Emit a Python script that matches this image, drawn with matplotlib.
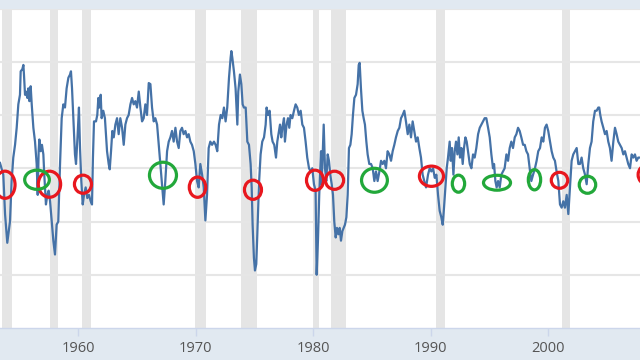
import matplotlib
matplotlib.use("Agg")
import matplotlib.pyplot as plt
from matplotlib.patches import Ellipse

# series (decimal year, value)
years = [
    1953.36, 1953.64, 1953.79, 1953.93, 1953.98, 1954.21, 1954.35, 1954.49, 1954.64, 1954.78,
    1954.92, 1955.06, 1955.12, 1955.26, 1955.35, 1955.40, 1955.49, 1955.57, 1955.69, 1955.77,
    1955.86, 1955.97, 1956.06, 1956.20, 1956.34, 1956.48, 1956.57, 1956.65, 1956.71, 1956.82,
    1956.93, 1957.05, 1957.13, 1957.27, 1957.39, 1957.50, 1957.62, 1957.76, 1957.90, 1958.04,
    1958.18, 1958.32, 1958.47, 1958.61, 1958.75, 1958.89, 1959.03, 1959.18, 1959.32, 1959.40,
    1959.49, 1959.60, 1959.74, 1959.83, 1959.97, 1960.08, 1960.17, 1960.28, 1960.40, 1960.51,
    1960.65, 1960.79, 1960.93, 1961.08, 1961.19, 1961.27, 1961.36, 1961.53, 1961.64, 1961.73,
    1961.81, 1961.93, 1962.01, 1962.15, 1962.29,
    1962.47, 1962.61, 1962.70, 1962.81, 1962.92, 1963.04, 1963.18, 1963.32, 1963.46, 1963.60,
    1963.75, 1963.89, 1964.03, 1964.17, 1964.31, 1964.46, 1964.60, 1964.74, 1964.88, 1965.02,
    1965.17, 1965.31, 1965.45, 1965.59, 1965.73, 1965.87, 1966.02, 1966.16, 1966.30, 1966.44,
    1966.58, 1966.73, 1966.87, 1967.01, 1967.15, 1967.29, 1967.43, 1967.58, 1967.72, 1967.86,
    1968.00, 1968.14, 1968.29, 1968.43, 1968.57, 1968.71, 1968.85, 1968.99, 1969.14, 1969.28,
    1969.42, 1969.56, 1969.70, 1969.85, 1969.99, 1970.13, 1970.27, 1970.41, 1970.56, 1970.70,
    1970.84, 1970.98, 1971.12, 1971.26, 1971.41,
    1971.57, 1971.71, 1971.85, 1972.00, 1972.14, 1972.28, 1972.42, 1972.56, 1972.70, 1972.85,
    1972.99, 1973.05, 1973.13, 1973.27, 1973.41, 1973.56, 1973.64, 1973.78, 1973.90, 1974.01,
    1974.12, 1974.27, 1974.41, 1974.55, 1974.69, 1974.78, 1974.86, 1974.97, 1975.06, 1975.17,
    1975.26, 1975.40, 1975.54, 1975.68, 1975.83, 1975.97, 1976.05, 1976.17, 1976.31, 1976.45,
    1976.56, 1976.70, 1976.85, 1976.96, 1977.10, 1977.19, 1977.30, 1977.39, 1977.53, 1977.61,
    1977.75, 1977.87, 1977.98, 1978.09, 1978.24, 1978.38, 1978.52, 1978.66, 1978.80, 1978.95,
    1979.09, 1979.23, 1979.37, 1979.51, 1979.66, 1979.80, 1979.94, 1980.08, 1980.22, 1980.31,
    1980.42, 1980.53, 1980.68,
    1980.74, 1980.82, 1980.91, 1981.02, 1981.13, 1981.25, 1981.36, 1981.47, 1981.59, 1981.70,
    1981.81, 1981.93, 1982.04, 1982.16, 1982.27, 1982.38, 1982.50, 1982.61, 1982.72, 1982.84,
    1982.95, 1983.06, 1983.18, 1983.29, 1983.40, 1983.52, 1983.66, 1983.80, 1983.89, 1983.97,
    1984.08, 1984.20, 1984.31, 1984.42, 1984.54, 1984.65, 1984.79, 1984.94, 1985.08, 1985.22,
    1985.36, 1985.50, 1985.65, 1985.79, 1985.93, 1986.07, 1986.21, 1986.35, 1986.50, 1986.64,
    1986.78, 1986.92, 1987.06, 1987.21, 1987.35, 1987.49, 1987.63, 1987.77, 1987.91, 1988.06,
    1988.20, 1988.34, 1988.48, 1988.62, 1988.77, 1988.91, 1989.05, 1989.19, 1989.33, 1989.47,
    1989.62,
    1989.79, 1989.93, 1990.07, 1990.22, 1990.36, 1990.50, 1990.64, 1990.78, 1990.92, 1991.04,
    1991.15, 1991.27, 1991.38, 1991.49, 1991.63, 1991.72, 1991.83, 1991.95, 1992.06, 1992.17,
    1992.29, 1992.40, 1992.51, 1992.63, 1992.74, 1992.85, 1992.97, 1993.08, 1993.19, 1993.34,
    1993.48, 1993.62, 1993.76, 1993.90, 1994.05, 1994.19, 1994.33, 1994.47, 1994.61, 1994.75,
    1994.90, 1995.04, 1995.18, 1995.32, 1995.41, 1995.52, 1995.63, 1995.75, 1995.89, 1996.03,
    1996.17, 1996.31, 1996.46, 1996.60, 1996.74, 1996.88, 1997.02, 1997.17, 1997.31, 1997.45,
    1997.59, 1997.73, 1997.88, 1998.02, 1998.16, 1998.30, 1998.44, 1998.58, 1998.73,
    1998.89, 1999.03, 1999.17, 1999.32, 1999.46, 1999.60, 1999.74, 1999.88, 2000.02, 2000.17,
    2000.31, 2000.45, 2000.59, 2000.73, 2000.88, 2001.02, 2001.16, 2001.30, 2001.44, 2001.59,
    2001.73, 2001.87, 2002.01, 2002.15, 2002.29, 2002.44, 2002.58, 2002.72, 2002.86, 2003.00,
    2003.15, 2003.29, 2003.43, 2003.57, 2003.71, 2003.85, 2004.00, 2004.14, 2004.28, 2004.36,
    2004.45, 2004.56, 2004.71, 2004.85, 2004.99, 2005.13, 2005.27, 2005.41, 2005.56, 2005.70,
    2005.84, 2005.98, 2006.12, 2006.27, 2006.41, 2006.55, 2006.69, 2006.83, 2006.98, 2007.12,
    2007.26, 2007.40, 2007.54, 2007.68, 2007.83,
]
values = [
    0.5, -0.6, -4.3, -6.2, -7.0, -5.0, -1.2, 1.0, 2.2, 3.8,
    6.0, 6.9, 9.1, 9.3, 9.7, 8.8, 6.9, 7.2, 6.6, 7.5,
    6.3, 7.7, 6.0, 3.8, 2.5, 0.4, -2.5, 1.6, 2.7, 1.6,
    2.2, 1.3, -0.6, -3.4, -2.5, -2.1, -3.1, -5.0, -6.8, -8.1,
    -5.3, -5.0, 0.4, 4.7, 6.0, 5.7, 7.5, 8.5, 8.8, 9.1,
    7.5, 4.7, 1.3, 0.4, 3.2, 5.7, 1.9, -1.2, -3.4, -2.5,
    -1.8, -2.8, -2.5, -3.1, -3.4, 1.0, 4.4, 4.4, 5.0, 6.6,
    5.7, 6.9, 4.7, 5.4, 4.7,
    1.6, 0.4, -0.1, 1.6, 3.5, 2.9, 4.1, 4.7, 3.2, 4.7,
    3.8, 2.2, 4.1, 4.7, 5.0, 6.0, 6.6, 6.0, 6.3, 5.7,
    7.2, 5.7, 4.4, 4.7, 6.0, 5.0, 8.0, 7.9, 5.7, 4.4,
    4.7, 4.1, 2.2, 0.4, -1.5, -3.4, -1.2, 1.6, 2.5, 2.9,
    3.5, 2.5, 3.8, 2.5, 1.9, 3.5, 3.8, 3.2, 3.5, 2.9,
    3.2, 2.5, 2.2, 1.6, 0.4, -1.2, -1.8, 0.4, -0.6, -1.8,
    -4.9, -2.5, 1.9, 2.5, 2.2,
    2.5, 2.2, 1.6, 4.1, 5.0, 4.7, 5.7, 4.4, 5.7, 8.5,
    10.4, 11.0, 10.4, 9.1, 7.5, 4.1, 7.2, 8.8, 7.9, 6.0,
    5.7, 5.7, 2.5, 2.2, 0.4, -1.8, -5.3, -8.4, -9.6, -9.0,
    -6.2, -1.5, 1.3, 2.5, 2.9, 4.1, 5.7, 5.0, 5.4, 3.2,
    2.5, 2.2, 1.0, 2.5, 3.5, 4.1, 2.9, 3.8, 4.7, 2.5,
    4.1, 4.7, 3.8, 5.0, 4.7, 5.4, 6.0, 5.7, 5.0, 5.4,
    4.1, 3.8, 2.5, 1.0, 0.0, -0.3, 0.0, -1.5, -2.1, -10.0,
    -6.8, -2.5, 1.6,
    -1.5, 1.0, 4.1, 0.0, -1.2, 1.3, 0.7, -0.6, -1.5, -2.5,
    -5.0, -6.5, -5.6, -6.2, -5.6, -6.8, -5.9, -5.6, -5.3, -4.6,
    -2.5, 1.9, 2.2, 3.2, 5.0, 6.6, 6.9, 7.9, 9.7, 9.9,
    7.5, 5.4, 4.7, 4.1, 2.5, 1.3, 0.4, 0.4, 0.0, -1.2,
    -0.3, -1.2, -0.3, 0.7, 0.4, 0.7, 0.0, 1.6, 1.3, 0.7,
    1.6, 2.2, 2.9, 3.5, 3.8, 4.7, 5.0, 5.4, 4.4, 3.2,
    4.1, 2.9, 4.4, 3.5, 2.5, 2.9, 1.9, 1.0, -0.6, -1.2,
    -1.8,
    -0.6, 0.0, -0.3, 0.0, -0.9, -0.6, -2.5, -4.0, -4.6, -5.3,
    -3.7, -1.8, 0.0, 1.0, 2.5, 0.7, 1.9, -0.6, 1.6, 2.5,
    1.3, 2.9, 1.0, 1.9, 0.4, 1.9, 2.9, 2.5, 1.6, 0.4,
    0.0, 1.3, 1.0, 1.9, 3.2, 3.8, 4.1, 4.4, 4.7, 4.7,
    3.8, 2.9, 1.3, 0.0, 0.4, -1.2, -1.8, -1.2, -1.8, -0.6,
    -0.3, 0.0, 1.3, 0.7, 1.9, 2.5, 1.9, 2.9, 3.2, 3.8,
    3.5, 2.9, 2.2, 2.2, 1.6, 1.3, 0.0, -1.2, -0.6,
    0.0, 0.7, 1.6, 1.9, 2.9, 2.5, 3.8, 4.1, 3.5, 2.5,
    1.6, 1.0, 0.7, -0.3, -1.2, -3.4, -3.7, -3.1, -3.7, -2.5,
    -4.3, -1.8, 0.7, 1.3, 1.6, 1.9, 0.4, 0.4, 1.0, 0.0,
    -0.6, -1.5, 0.4, 1.9, 2.5, 4.4, 5.4, 5.4, 5.7, 5.7,
    5.0, 4.4, 3.8, 3.2, 3.5, 2.5, 1.9, 0.7, 2.5, 3.8,
    3.2, 2.5, 2.2, 1.9, 1.3, 1.6, 1.0, 0.4, 0.0, 1.3,
    1.0, 1.3, 0.7, 1.0, 1.0,
]

# NBER recessions (start, end)
rec_start = [1953.5, 1957.6, 1960.3, 1969.95, 1973.85, 1980.0, 1981.5, 1990.5, 2001.17]
rec_end = [1954.4, 1958.3, 1961.1, 1970.85, 1975.2, 1980.5, 1982.85, 1991.2, 2001.85]

# hand-drawn markers: centre year, centre value, width (years), height (value units)
red_x = [1953.79, 1957.57, 1960.42, 1970.17, 1974.89, 1980.17, 1981.83, 1990.08, 2000.98, 2008.42]
red_y = [-1.55, -1.50, -1.50, -1.78, -2.02, -1.13, -1.13, -0.75, -1.13, -0.61]
red_w = [1.7, 1.9, 1.45, 1.4, 1.45, 1.45, 1.55, 2.05, 1.4, 1.5]
red_h = [2.55, 2.45, 1.7, 1.9, 1.8, 1.9, 1.7, 1.9, 1.5, 1.8]

green_x = [1956.51, 1967.23, 1985.23, 1992.38, 1995.66, 1998.85, 2003.36]
green_y = [-1.08, -0.66, -1.13, -1.45, -1.36, -1.08, -1.55]
green_w = [2.1, 2.3, 2.2, 1.05, 2.3, 1.05, 1.4]
green_h = [1.8, 2.45, 2.25, 1.6, 1.4, 1.9, 1.6]

band = "#e1e9f1"
fig = plt.figure(figsize=(6.4, 3.6), dpi=100, facecolor=band)
ax = fig.add_axes([0, 32 / 360, 1, (360 - 8.5 - 32) / 360])
ax.set_facecolor("white")

for s, e in zip(rec_start, rec_end):
    ax.axvspan(s, e, color="#e5e5e5", lw=0, zorder=0)

for yv in [-10, -5, 0, 5, 10, 15]:
    ax.axhline(yv, color="#e6e6e6", lw=1.5, zorder=1)

ax.plot(years, values, color="#4572a7", lw=1.6, zorder=3)

for x, y, w, h in zip(red_x, red_y, red_w, red_h):
    ax.add_patch(Ellipse((x, y), w, h, fill=False, edgecolor="#e8171e", lw=2.3, zorder=4))
for x, y, w, h in zip(green_x, green_y, green_w, green_h):
    ax.add_patch(Ellipse((x, y), w, h, fill=False, edgecolor="#22a83a", lw=2.3, zorder=4))

ax.set_xlim(1953.36, 2007.83)
ax.set_ylim(-15, 15)
ax.set_yticks([])
ax.set_xticks([1960, 1970, 1980, 1990, 2000])
ax.set_xticklabels(["1960", "1970", "1980", "1990", "2000"], fontfamily="Open Sans",
                   fontsize=10.5, color="#555555")
ax.tick_params(axis="x", direction="out", length=6, width=1, color="#ccd6eb", pad=3)
for side in ["top", "left", "right"]:
    ax.spines[side].set_visible(False)
ax.spines["bottom"].set_color("#ccd6eb")
ax.spines["bottom"].set_linewidth(1)

fig.savefig("out.png", dpi=100, facecolor=band)
